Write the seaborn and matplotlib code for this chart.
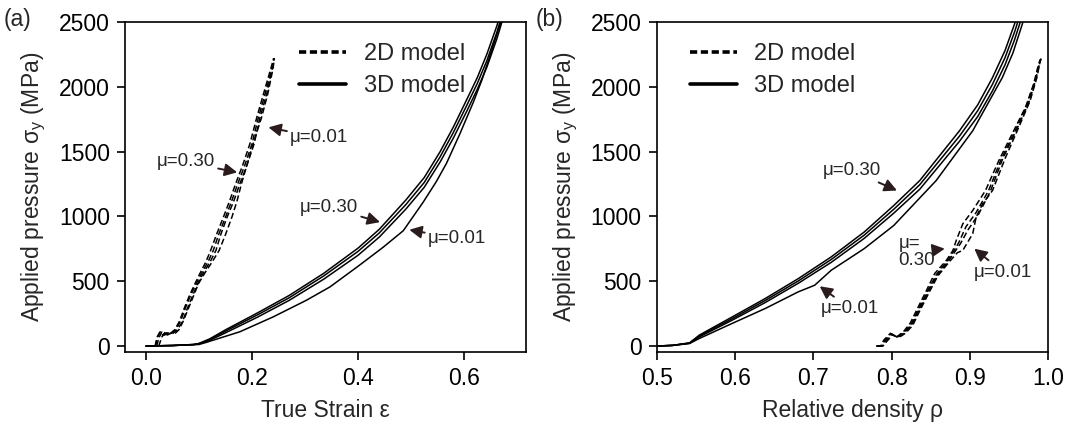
import seaborn as sns
import matplotlib.pyplot as plt
from matplotlib.lines import Line2D

# ---- data (stress in MPa) ----
mu_values = ['0.30', '0.20', '0.10', '0.01']

# (a) 3D model: true strain vs pressure
strain_3d = [0.00, 0.05, 0.09, 0.10, 0.12, 0.15, 0.21, 0.27, 0.335, 0.40, 0.44, 0.49,
             0.525, 0.555, 0.58, 0.605, 0.625, 0.643, 0.662, 0.69]
stress_3d_030 = [0, 4, 12, 20, 55, 125, 255, 390, 560, 755, 900, 1125, 1300, 1500, 1690, 1900, 2070, 2250, 2470, 2850]
stress_3d_020 = [0, 4, 12, 19, 50, 115, 240, 372, 540, 730, 872, 1090, 1262, 1460, 1648, 1855, 2025, 2200, 2420, 2800]
stress_3d_010 = [0, 4, 11, 17, 44, 102, 222, 352, 515, 700, 840, 1055, 1225, 1420, 1605, 1810, 1980, 2150, 2370, 2750]
strain_3d_001 = [0.00, 0.05, 0.10, 0.115, 0.177, 0.24, 0.303, 0.347, 0.40, 0.448, 0.4855, 0.523,
                 0.548, 0.567, 0.592, 0.6175, 0.634, 0.649, 0.668, 0.69]
stress_3d_001 = [0, 4, 12, 30, 110, 225, 354, 456, 615, 764, 890, 1110, 1270, 1410, 1635, 1880, 2055, 2240, 2480, 2780]

# (a) 2D model
stress_2d = [0, 70, 108, 85, 100, 98, 125, 190, 290, 390, 482, 570, 650, 738, 860, 994, 1123,
             1251, 1390, 1560, 1763, 1950, 2148, 2220]
strain_2d_030 = [0.017, 0.021, 0.026, 0.031, 0.037, 0.046, 0.054, 0.063, 0.072, 0.082, 0.0925, 0.103,
                 0.113, 0.122, 0.133, 0.146, 0.158, 0.169, 0.182, 0.196, 0.209, 0.222, 0.236, 0.241]
strain_2d_020 = [0.018, 0.022, 0.027, 0.033, 0.039, 0.048, 0.056, 0.065, 0.074, 0.084, 0.095, 0.106,
                 0.117, 0.127, 0.137, 0.150, 0.162, 0.173, 0.186, 0.200, 0.212, 0.225, 0.238, 0.241]
strain_2d_010 = [0.020, 0.025, 0.030, 0.035, 0.042, 0.051, 0.059, 0.069, 0.078, 0.088, 0.098, 0.109,
                 0.121, 0.132, 0.141, 0.153, 0.166, 0.177, 0.190, 0.204, 0.215, 0.228, 0.239, 0.242]
strain_2d_001 = [0.024, 0.030, 0.036, 0.040, 0.048, 0.055, 0.062, 0.070, 0.080, 0.090, 0.099, 0.112,
                 0.125, 0.138, 0.150, 0.162, 0.172, 0.180, 0.190, 0.202, 0.218, 0.230, 0.240, 0.242]

# (b) 3D model: relative density vs pressure
rho_3d = [0.500, 0.520, 0.5417, 0.5543, 0.5963, 0.6385, 0.6806, 0.7226, 0.7648, 0.8027, 0.836,
          0.8868, 0.91, 0.929, 0.945, 0.957, 0.972]
pres_3d_030 = [0, 5, 25, 85, 225, 367, 520, 687, 879, 1084, 1277, 1661, 1860, 2071, 2280, 2482, 2760]
pres_3d_020 = [0, 5, 23, 78, 212, 352, 502, 667, 855, 1055, 1245, 1620, 1815, 2020, 2225, 2420, 2700]
pres_3d_010 = [0, 5, 21, 71, 200, 336, 484, 645, 830, 1025, 1210, 1580, 1770, 1970, 2170, 2360, 2640]
rho_3d_001 = [0.500, 0.520, 0.5417, 0.5543, 0.5963, 0.6385, 0.6806, 0.7016, 0.7226, 0.7648, 0.8027,
              0.857, 0.9037, 0.9415, 0.955, 0.967, 0.980]
pres_3d_001 = [0, 5, 20, 59, 175, 290, 418, 469, 584, 751, 930, 1277, 1661, 2071, 2260, 2482, 2750]

# (b) 2D model
rho_2d_030 = [0.780, 0.786, 0.790, 0.7984, 0.8068, 0.815, 0.8236, 0.832, 0.8447, 0.855, 0.870, 0.8784,
              0.8826, 0.891, 0.9037, 0.920, 0.937, 0.954, 0.971, 0.9815, 0.9878, 0.990]
pres_2d_030 = [0, 0, 46, 98, 72, 110, 175, 277, 431, 559, 661, 738, 815, 943, 1046, 1200, 1430, 1636,
               1840, 2020, 2174, 2212]
rho_2d_020 = [0.781, 0.787, 0.791, 0.799, 0.8075, 0.816, 0.825, 0.833, 0.846, 0.857, 0.871, 0.880,
              0.886, 0.895, 0.908, 0.924, 0.940, 0.957, 0.973, 0.983, 0.989, 0.991]
pres_2d_020 = [0, 0, 40, 95, 70, 108, 170, 270, 425, 550, 655, 738, 800, 920, 1030, 1200, 1440, 1650,
               1860, 2040, 2180, 2215]
rho_2d_010 = [0.782, 0.788, 0.792, 0.800, 0.808, 0.817, 0.826, 0.834, 0.847, 0.858, 0.872, 0.882,
              0.888, 0.898, 0.911, 0.926, 0.942, 0.959, 0.975, 0.984, 0.9895, 0.991]
pres_2d_010 = [0, 0, 35, 90, 68, 105, 165, 265, 420, 545, 650, 738, 790, 900, 1015, 1190, 1445, 1660,
               1870, 2050, 2190, 2218]
rho_2d_001 = [0.783, 0.789, 0.793, 0.801, 0.809, 0.818, 0.827, 0.835, 0.848, 0.859, 0.873, 0.884,
              0.891, 0.9037, 0.908, 0.9163, 0.929, 0.9457, 0.9625, 0.977, 0.9857, 0.990]
pres_2d_001 = [0, 0, 30, 85, 65, 100, 160, 260, 415, 540, 645, 720, 738, 867, 994, 1097, 1200, 1456,
               1687, 1892, 2071, 2200]

sns.set_theme(style='ticks')
plt.rcParams['font.family'] = ['Liberation Sans', 'DejaVu Sans']
plt.rcParams['mathtext.default'] = 'regular'
plt.rcParams['axes.linewidth'] = 1.2

fig = plt.figure(figsize=(10.65, 4.26), dpi=100)
ax1 = fig.add_axes([0.1174, 0.1737, 0.3765, 0.7747])
ax2 = fig.add_axes([0.6169, 0.1737, 0.3672, 0.7747])

dash = (0, (4, 2))
lw = 1.1

# panel (a)
for s in [stress_3d_030, stress_3d_020, stress_3d_010]:
    sns.lineplot(x=strain_3d, y=s, ax=ax1, color='black', lw=lw, sort=False, estimator=None)
sns.lineplot(x=strain_3d_001, y=stress_3d_001, ax=ax1, color='black', lw=lw, sort=False, estimator=None)
for st in [strain_2d_030, strain_2d_020, strain_2d_010, strain_2d_001]:
    sns.lineplot(x=st, y=stress_2d, ax=ax1, color='black', lw=lw, linestyle=dash, sort=False, estimator=None)

# panel (b)
for p in [pres_3d_030, pres_3d_020, pres_3d_010]:
    sns.lineplot(x=rho_3d, y=p, ax=ax2, color='black', lw=lw, sort=False, estimator=None)
sns.lineplot(x=rho_3d_001, y=pres_3d_001, ax=ax2, color='black', lw=lw, sort=False, estimator=None)
for r, p in [(rho_2d_030, pres_2d_030), (rho_2d_020, pres_2d_020),
             (rho_2d_010, pres_2d_010), (rho_2d_001, pres_2d_001)]:
    sns.lineplot(x=r, y=p, ax=ax2, color='black', lw=lw, linestyle=dash, sort=False, estimator=None)

ylabel = 'Applied pressure σ$_y$ (MPa)'
for ax in [ax1, ax2]:
    ax.set_ylim(-46, 2500)
    ax.set_yticks([0, 500, 1000, 1500, 2000, 2500])
    ax.tick_params(labelsize=16.5, length=6, width=1.2, pad=5, colors='black')
    ax.set_ylabel(ylabel, fontsize=16.5, labelpad=8)
    for sp in ax.spines.values():
        sp.set_color('black')
    handles = [Line2D([], [], color='black', lw=2.6, linestyle=(0, (2, 1))),
               Line2D([], [], color='black', lw=2.6)]
    ax.legend(handles, ['2D model', '3D model'], frameon=False, fontsize=17, loc='upper left',
              borderpad=0, handlelength=2.0, handletextpad=0.75, labelspacing=0.42,
              bbox_to_anchor=(0.404 if ax is ax1 else 0.053, 0.972))

ax1.set_xlim(-0.0396, 0.717)
ax1.set_xticks([0.0, 0.2, 0.4, 0.6])
ax1.set_xticklabels(['0.0', '0.2', '0.4', '0.6'])
ax1.set_xlabel('True Strain ε', fontsize=16.5, labelpad=6)
ax2.set_xlim(0.5, 1.0)
ax2.set_xticks([0.5, 0.6, 0.7, 0.8, 0.9, 1.0])
ax2.set_xticklabels(['0.5', '0.6', '0.7', '0.8', '0.9', '1.0'])
ax2.set_xlabel('Relative density ρ', fontsize=16.5, labelpad=6)

arrow = dict(arrowstyle='-|>,head_length=0.55,head_width=0.28', color='#2a1c1c', lw=1.4,
             shrinkA=0, shrinkB=0)
fs = 13.5
ax1.annotate('μ=0.01', xy=(0.231, 1687), xytext=(0.272, 1607), fontsize=fs, va='center', ha='left',
             arrowprops=arrow)
ax1.annotate('μ=0.30', xy=(0.172, 1340), xytext=(0.130, 1420), fontsize=fs, va='center', ha='right',
             arrowprops=arrow)
ax1.annotate('μ=0.30', xy=(0.4415, 956), xytext=(0.400, 1071), fontsize=fs, va='center', ha='right',
             arrowprops=arrow)
ax1.annotate('μ=0.01', xy=(0.4968, 897), xytext=(0.532, 828), fontsize=fs, va='center', ha='left',
             arrowprops=arrow)

ax2.annotate('μ=0.30', xy=(0.8068, 1200), xytext=(0.712, 1353), fontsize=fs, va='center', ha='left',
             arrowprops=arrow)
ax2.annotate('μ=0.01', xy=(0.708, 461), xytext=(0.7096, 290), fontsize=fs, va='center', ha='left',
             arrowprops=arrow)
ax2.annotate('μ=\n0.30', xy=(0.868, 751), xytext=(0.809, 723), fontsize=fs, va='center', ha='left',
             linespacing=1.0, arrowprops=arrow)
ax2.annotate('μ=0.01', xy=(0.9057, 751), xytext=(0.905, 571), fontsize=fs, va='center', ha='left',
             arrowprops=arrow)

fig.text(0.003, 0.955, '(a)', fontsize=16.5, va='center', ha='left')
fig.text(0.503, 0.955, '(b)', fontsize=16.5, va='center', ha='left')

fig.savefig('out.png', dpi=100)
